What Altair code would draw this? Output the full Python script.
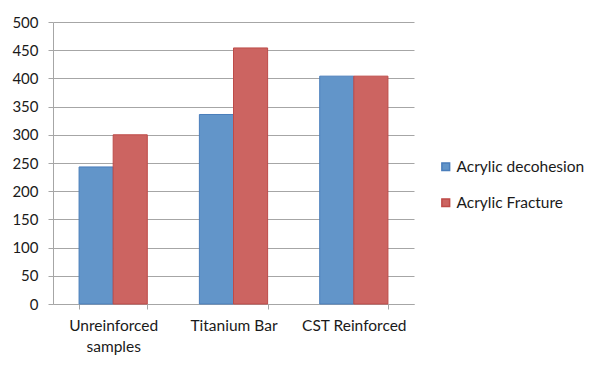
import altair as alt
import pandas as pd

categories = ["Unreinforced samples", "Titanium Bar", "CST Reinforced"]
series = ["Acrylic decohesion", "Acrylic Fracture"]
decohesion = [243, 336, 404]
fracture = [300, 454, 404]

rows = []
for c, d, f in zip(categories, decohesion, fracture):
    rows.append({"category": c, "series": series[0], "value": d})
    rows.append({"category": c, "series": series[1], "value": f})
df = pd.DataFrame(rows)

FONT = "Lato"
GRID = "#A6A6A6"
TXT = "#1a1a1a"

chart = alt.Chart(df).mark_bar(strokeWidth=1).encode(
    x=alt.X("category:N", sort=categories, title=None,
            scale=alt.Scale(paddingInner=0.433, paddingOuter=0.2167),
            axis=alt.Axis(labelAngle=0, tickBand="extent", tickSize=5,
                          tickColor=GRID, domainColor=GRID, labelPadding=9,
                          labelFontSize=15.5, labelFont=FONT, labelColor=TXT,
                          labelLineHeight=21,
                          labelExpr="datum.label == 'Unreinforced samples' ? ['Unreinforced', 'samples'] : datum.label")),
    xOffset=alt.XOffset("series:N", sort=series),
    y=alt.Y("value:Q", title=None,
            scale=alt.Scale(domain=[0, 500], nice=False),
            axis=alt.Axis(values=list(range(0, 501, 50)), tickSize=5,
                          tickColor=GRID, domainColor=GRID, gridColor=GRID,
                          labelPadding=10, labelFontSize=15, labelFont=FONT,
                          labelColor=TXT)),
    color=alt.Color("series:N", sort=series,
                    scale=alt.Scale(domain=series, range=["#6295C9", "#CC6461"]),
                    legend=alt.Legend(title=None, orient="none", legendX=385, legendY=137,
                                      symbolType="square", symbolSize=60,
                                      labelFontSize=15.5, labelFont=FONT, labelColor=TXT,
                                      rowPadding=19, labelOffset=3)),
    stroke=alt.Stroke("series:N", sort=series,
                      scale=alt.Scale(domain=series, range=["#4A7EBB", "#BE4B48"]),
                      legend=None),
).properties(
    width=361, height=282,
    autosize=alt.AutoSizeParams(type="none"),
    padding={"left": 45, "top": 14, "right": 178, "bottom": 56},
).configure_view(stroke=None).configure_axis(gridWidth=1, domainWidth=1)

chart.save("out.html", embed_options={"renderer": "svg", "actions": False})
